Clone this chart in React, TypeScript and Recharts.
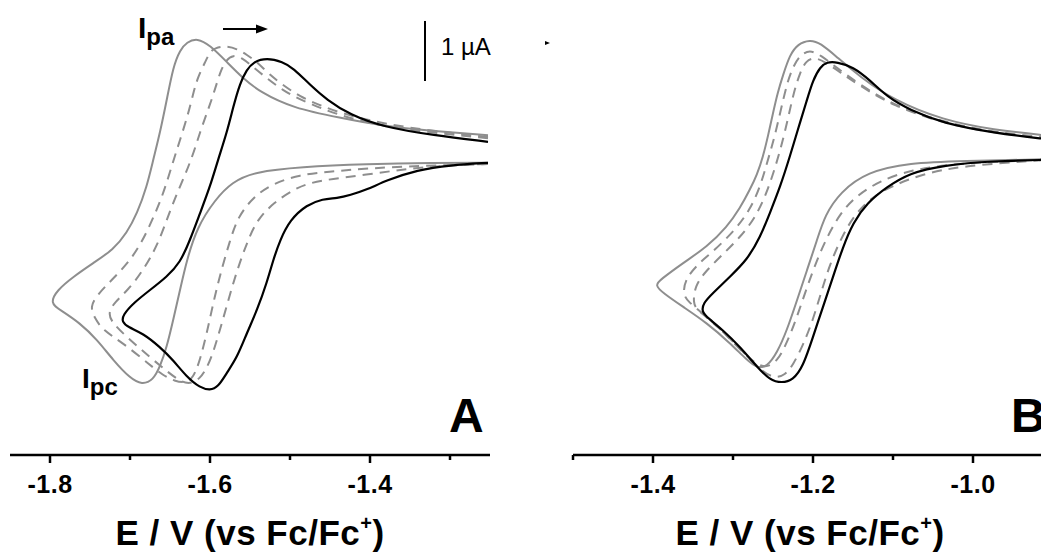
import React from "react";
import { LineChart, Line, XAxis, YAxis } from "recharts";

// E in V vs Fc/Fc+, I in µA (positive up)
const grayA: [number, number][] = [
  [-1.2525, 0.33], [-1.321, 0.4], [-1.384, 0.48], [-1.4375, 0.62], [-1.496, 0.78], [-1.5375, 1.05],
  [-1.559, 1.28], [-1.579, 1.55], [-1.6, 1.83], [-1.616, 1.95], [-1.629, 1.88], [-1.6375, 1.75],
  [-1.646, 1.47], [-1.654, 0.92], [-1.6625, 0.37], [-1.671, -0.08], [-1.679, -0.53], [-1.691, -0.97],
  [-1.704, -1.3], [-1.721, -1.58], [-1.746, -1.8], [-1.771, -2.03], [-1.791, -2.25], [-1.8, -2.47],
  [-1.7875, -2.58], [-1.7625, -2.8], [-1.741, -3.08], [-1.721, -3.42], [-1.7, -3.72], [-1.685, -3.83],
  [-1.671, -3.75], [-1.6625, -3.53], [-1.654, -3.2], [-1.646, -2.75], [-1.6375, -2.25], [-1.629, -1.75],
  [-1.616, -1.2], [-1.594, -0.75], [-1.5725, -0.45], [-1.544, -0.28], [-1.4875, -0.2], [-1.404, -0.15],
  [-1.321, -0.13], [-1.2525, -0.13],
];

const dash1A: [number, number][] = [
  [-1.2525, 0.3], [-1.321, 0.4], [-1.384, 0.52], [-1.4375, 0.7], [-1.4625, 0.83], [-1.4875, 0.97],
  [-1.509, 1.17], [-1.525, 1.33], [-1.541, 1.55], [-1.554, 1.67], [-1.566, 1.77], [-1.581, 1.82],
  [-1.594, 1.78], [-1.6, 1.72], [-1.606, 1.55], [-1.615, 1.3], [-1.62, 1.08], [-1.6275, 0.67],
  [-1.6375, 0.25], [-1.6475, -0.17], [-1.659, -0.67], [-1.671, -1.05], [-1.685, -1.45], [-1.701, -1.78],
  [-1.7225, -2.08], [-1.741, -2.33], [-1.75, -2.53],
  [-1.744, -2.72], [-1.734, -2.92], [-1.709, -3.13], [-1.675, -3.5], [-1.659, -3.67], [-1.644, -3.77],
  [-1.631, -3.8], [-1.621, -3.72], [-1.6125, -3.42], [-1.604, -2.97], [-1.596, -2.47], [-1.5875, -2.0],
  [-1.575, -1.42], [-1.565, -1.03], [-1.546, -0.7], [-1.521, -0.47], [-1.4875, -0.33], [-1.454, -0.28],
  [-1.4, -0.22], [-1.3375, -0.18], [-1.2525, -0.15],
];

const dash2A: [number, number][] = [
  [-1.2525, 0.28], [-1.321, 0.37], [-1.384, 0.48], [-1.4375, 0.65], [-1.4875, 0.92], [-1.509, 1.08],
  [-1.529, 1.28], [-1.5475, 1.48], [-1.56, 1.62], [-1.571, 1.67], [-1.58, 1.58], [-1.586, 1.42],
  [-1.591, 1.22], [-1.596, 1.0], [-1.6025, 0.75], [-1.6125, 0.38], [-1.6225, -0.05], [-1.635, -0.45],
  [-1.65, -0.92], [-1.665, -1.5], [-1.685, -1.95], [-1.7025, -2.25], [-1.719, -2.45], [-1.7275, -2.63],
  [-1.7225, -2.8], [-1.7, -3.08], [-1.675, -3.37], [-1.6525, -3.62], [-1.6375, -3.77], [-1.625, -3.82],
  [-1.6125, -3.73], [-1.604, -3.55], [-1.596, -3.3], [-1.584, -2.75], [-1.5725, -2.2], [-1.5625, -1.78],
  [-1.5525, -1.42], [-1.541, -1.08], [-1.521, -0.8], [-1.491, -0.53], [-1.4625, -0.42], [-1.404, -0.33],
  [-1.35, -0.22], [-1.296, -0.17], [-1.2525, -0.15],
];

const blackA: [number, number][] = [
  [-1.2525, 0.22], [-1.321, 0.33], [-1.384, 0.47], [-1.425, 0.67], [-1.454, 0.92], [-1.475, 1.17],
  [-1.496, 1.45], [-1.509, 1.55], [-1.529, 1.62], [-1.546, 1.55], [-1.554, 1.42], [-1.5625, 1.2],
  [-1.571, 0.8], [-1.579, 0.37], [-1.59, -0.08], [-1.6, -0.53], [-1.6125, -0.97], [-1.625, -1.42],
  [-1.6375, -1.8], [-1.654, -2.03], [-1.675, -2.25], [-1.696, -2.47], [-1.709, -2.67], [-1.71, -2.78],
  [-1.7025, -2.87], [-1.684, -2.97], [-1.6625, -3.2], [-1.646, -3.42], [-1.629, -3.7], [-1.6125, -3.88],
  [-1.6, -3.92], [-1.59, -3.87], [-1.579, -3.63], [-1.566, -3.37], [-1.554, -2.97], [-1.541, -2.58],
  [-1.529, -2.13], [-1.521, -1.75], [-1.5125, -1.42], [-1.5, -1.08], [-1.479, -0.83], [-1.459, -0.73],
  [-1.441, -0.72], [-1.425, -0.67], [-1.404, -0.58], [-1.379, -0.42], [-1.341, -0.25], [-1.3, -0.17],
  [-1.2525, -0.13],
];

const grayB: [number, number][] = [
  [-0.905, 0.32], [-0.975, 0.42], [-1.0375, 0.58], [-1.1, 0.92], [-1.141, 1.3], [-1.17, 1.63],
  [-1.191, 1.87], [-1.204, 1.92], [-1.219, 1.85], [-1.229, 1.67], [-1.2375, 1.33], [-1.244, 1.05],
  [-1.25, 0.7], [-1.256, 0.33], [-1.2625, -0.03], [-1.27, -0.33], [-1.279, -0.58], [-1.291, -0.88],
  [-1.3075, -1.2], [-1.3325, -1.53], [-1.3625, -1.8], [-1.391, -2.08], [-1.3975, -2.17],
  [-1.3875, -2.3], [-1.3625, -2.53], [-1.3325, -2.8], [-1.304, -3.13], [-1.2825, -3.42], [-1.27, -3.55],
  [-1.2575, -3.53], [-1.245, -3.3], [-1.2325, -2.92], [-1.22, -2.42], [-1.2075, -1.92], [-1.195, -1.42],
  [-1.185, -1.0], [-1.166, -0.62], [-1.1325, -0.28], [-1.079, -0.13], [-1.016, -0.1], [-0.905, -0.07],
];

const dash1B: [number, number][] = [
  [-0.905, 0.29], [-0.975, 0.38], [-1.0375, 0.55], [-1.1, 0.83], [-1.141, 1.17], [-1.17, 1.45],
  [-1.191, 1.67], [-1.204, 1.75], [-1.216, 1.67], [-1.225, 1.47], [-1.2325, 1.2], [-1.241, 0.7],
  [-1.25, 0.2], [-1.2575, -0.13], [-1.266, -0.53], [-1.279, -0.92], [-1.2975, -1.25], [-1.3225, -1.58],
  [-1.345, -1.83], [-1.36, -2.08], [-1.3625, -2.32],
  [-1.356, -2.45], [-1.335, -2.67], [-1.314, -2.92], [-1.291, -3.25], [-1.2725, -3.47], [-1.26, -3.55],
  [-1.245, -3.45], [-1.2325, -3.13], [-1.22, -2.7], [-1.2075, -2.2], [-1.195, -1.75], [-1.1825, -1.37],
  [-1.166, -0.97], [-1.145, -0.67], [-1.116, -0.43], [-1.079, -0.25], [-1.016, -0.13], [-0.905, -0.08],
];

const dash2B: [number, number][] = [
  [-0.905, 0.27], [-0.975, 0.37], [-1.0375, 0.53], [-1.1, 0.82], [-1.141, 1.15], [-1.166, 1.38],
  [-1.185, 1.55], [-1.1975, 1.63], [-1.209, 1.57], [-1.216, 1.38], [-1.224, 1.05], [-1.231, 0.62],
  [-1.24, 0.12], [-1.249, -0.28], [-1.259, -0.67], [-1.2725, -1.05], [-1.291, -1.37], [-1.314, -1.67],
  [-1.335, -1.95], [-1.3475, -2.18], [-1.35, -2.47],
  [-1.345, -2.58], [-1.326, -2.78], [-1.304, -3.05], [-1.281, -3.37], [-1.2625, -3.62], [-1.2475, -3.72],
  [-1.235, -3.67], [-1.225, -3.5], [-1.2125, -3.17], [-1.2, -2.75], [-1.189, -2.25], [-1.179, -1.83],
  [-1.166, -1.42], [-1.15, -1.03], [-1.129, -0.73], [-1.104, -0.53], [-1.066, -0.33], [-1.016, -0.18],
  [-0.905, -0.08],
];

const blackB: [number, number][] = [
  [-0.905, 0.26], [-0.975, 0.37], [-1.0375, 0.53], [-1.079, 0.75], [-1.1075, 0.97], [-1.129, 1.25],
  [-1.15, 1.47], [-1.17, 1.55], [-1.1825, 1.55], [-1.191, 1.47], [-1.2, 1.25], [-1.2075, 0.92],
  [-1.219, 0.42], [-1.229, -0.03], [-1.241, -0.53], [-1.254, -0.97], [-1.266, -1.37], [-1.2825, -1.75],
  [-1.304, -2.03], [-1.325, -2.3], [-1.3375, -2.47], [-1.339, -2.62],
  [-1.331, -2.72], [-1.3125, -2.92], [-1.291, -3.2], [-1.27, -3.53], [-1.254, -3.75], [-1.239, -3.8],
  [-1.225, -3.75], [-1.2125, -3.53], [-1.2, -3.03], [-1.1875, -2.53], [-1.175, -2.03], [-1.1625, -1.53],
  [-1.15, -1.13], [-1.1325, -0.8], [-1.1075, -0.53], [-1.079, -0.3], [-1.0375, -0.17], [-0.975, -0.1],
  [-0.905, -0.08],
];

const ticksA = [-1.8, -1.7, -1.6, -1.5, -1.4, -1.3];
const labelsA = [-1.8, -1.6, -1.4];
const ticksB = [-1.5, -1.4, -1.3, -1.2, -1.1, -1.0, -0.9];
const labelsB = [-1.4, -1.2, -1.0];

const FONT = "'Liberation Sans', Arial, sans-serif";
const GRAY = "#8e8e8e";

const pts = (arr: [number, number][]) => arr.map(([E, I]) => ({ E, I }));

const makeTick = (labeled: number[]) => (props: any) => {
  const { x, y, payload } = props;
  const v = payload.value as number;
  const major = labeled.some((l) => Math.abs(l - v) < 1e-6);
  return (
    <g>
      <line x1={x} x2={x} y1={y} y2={y + (major ? 8 : 5)} stroke="#000" strokeWidth={2.5} />
      {major && (
        <text x={x} y={y + 38} textAnchor="middle" fontFamily={FONT} fontWeight="bold" fontSize={25} letterSpacing={0.5} fill="#000">
          {v.toFixed(1)}
        </text>
      )}
    </g>
  );
};

function Panel({ series, domain, ticks, labels }: any) {
  return (
    <LineChart width={500} height={552} margin={{ top: 5, right: 10, bottom: 0, left: 10 }}>
      <XAxis
        type="number"
        dataKey="E"
        domain={domain}
        ticks={ticks}
        allowDataOverflow
        height={97}
        axisLine={{ stroke: "#000", strokeWidth: 2.5 }}
        tickLine={false}
        tickSize={0}
        tickMargin={0}
        tick={makeTick(labels)}
        interval={0}
      />
      <YAxis hide type="number" domain={[-5, 2.5]} allowDataOverflow />
      {series.map((s: any, i: number) => (
        <Line
          key={i}
          data={pts(s.data)}
          dataKey="I"
          type="basis"
          stroke={s.color}
          strokeWidth={s.width}
          strokeDasharray={s.dash}
          dot={false}
          activeDot={false}
          isAnimationActive={false}
        />
      ))}
    </LineChart>
  );
}

const Title = ({ x }: { x: number }) => (
  <text x={x} y={545} textAnchor="middle" fontFamily={FONT} fontWeight="bold" fontSize={35} letterSpacing={0.5} fill="#000">
    E / V (vs Fc/Fc<tspan fontSize={20} dy={-15}>+</tspan><tspan dy={15}>)</tspan>
  </text>
);

export default function App() {
  const seriesA = [
    { data: grayA, color: GRAY, width: 2 },
    { data: dash1A, color: GRAY, width: 2, dash: "10 7" },
    { data: dash2A, color: GRAY, width: 2, dash: "10 7" },
    { data: blackA, color: "#000", width: 2.2 },
  ];
  const seriesB = [
    { data: grayB, color: GRAY, width: 2 },
    { data: dash1B, color: GRAY, width: 2, dash: "10 7" },
    { data: dash2B, color: GRAY, width: 2, dash: "10 7" },
    { data: blackB, color: "#000", width: 2.2 },
  ];
  return (
    <div style={{ position: "absolute", left: 0, top: 0, width: 1041, height: 552, overflow: "hidden", background: "#fff" }}>
      <div style={{ position: "absolute", left: 0, top: 0 }}>
        <Panel series={seriesA} domain={[-1.85, -1.25]} ticks={ticksA} labels={labelsA} />
      </div>
      <div style={{ position: "absolute", left: 563, top: 0 }}>
        <Panel series={seriesB} domain={[-1.5, -0.9]} ticks={ticksB} labels={labelsB} />
      </div>
      <svg width={1041} height={552} style={{ position: "absolute", left: 0, top: 0, pointerEvents: "none" }}>
        <text x={138} y={38} fontFamily={FONT} fontWeight="bold" fontSize={30} fill="#000">
          I<tspan fontSize={24} dy={7}>pa</tspan>
        </text>
        <text x={82} y={388} fontFamily={FONT} fontWeight="bold" fontSize={28} fill="#000">
          I<tspan fontSize={24} dy={7}>pc</tspan>
        </text>
        <line x1={223} x2={259} y1={29} y2={29} stroke="#000" strokeWidth={2} />
        <polygon points="256,24.5 268,29 256,33.5" fill="#000" />
        <line x1={425} x2={425} y1={21} y2={81} stroke="#000" strokeWidth={2} />
        <text x={441} y={55} fontFamily={FONT} fontSize={24} fill="#000">1 µA</text>
        <polygon points="545,41 550,43 545,45" fill="#000" />
        <text x={449} y={432} fontFamily={FONT} fontWeight="bold" fontSize={48} fill="#000">A</text>
        <text x={1011} y={432} fontFamily={FONT} fontWeight="bold" fontSize={48} fill="#000">B</text>
        <Title x={250} />
        <Title x={810} />
      </svg>
    </div>
  );
}
